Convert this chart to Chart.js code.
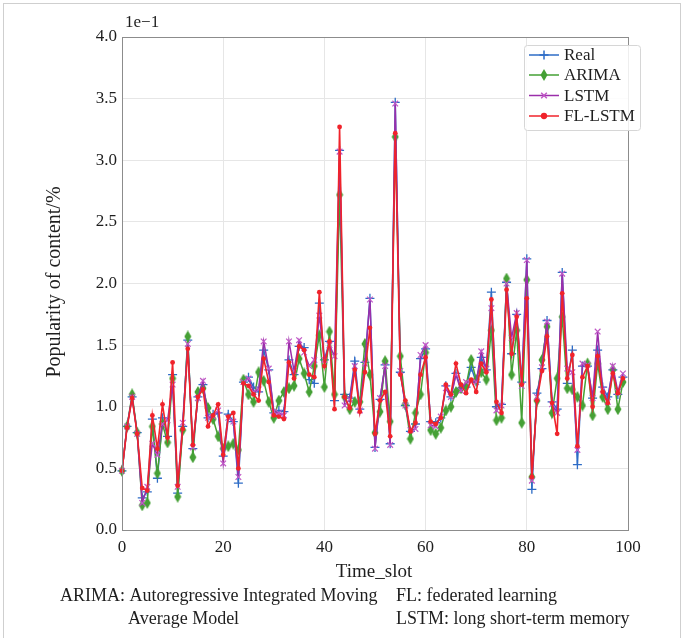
<!DOCTYPE html>
<html>
<head>
<meta charset="utf-8">
<script src="https://cdn.jsdelivr.net/npm/chart.js@4/dist/chart.umd.min.js"></script>
<style>
  html, body { margin: 0; padding: 0; background: #fff; }
  #wrap { width: 684px; height: 638px; }
</style>
</head>
<body>
<div id="wrap"><canvas id="chart" width="684" height="638"></canvas></div>
<script>
// values are shown in units of 1e-1
var timeSlots = Array.from({ length: 100 }, (_, i) => i);

var realValues = [
    0.48, 0.84, 1.08, 0.79, 0.26, 0.31, 0.90, 0.42, 0.91, 0.76,
    1.26, 0.30, 0.84, 1.54, 0.66, 1.08, 1.18, 0.91, 0.94, 0.95,
    0.60, 0.94, 0.88, 0.38, 1.20, 1.24, 1.16, 1.12, 1.46, 1.30,
    0.95, 0.97, 0.96, 1.38, 1.26, 1.49, 1.48, 1.22, 1.19, 1.84,
    1.38, 1.53, 1.05, 3.08, 1.10, 1.07, 1.37, 0.98, 1.36, 1.88,
    0.67, 1.06, 1.34, 0.70, 3.47, 1.28, 1.01, 0.80, 0.86, 1.39,
    1.47, 0.88, 0.87, 0.91, 1.17, 1.08, 1.27, 1.15, 1.16, 1.32,
    1.20, 1.40, 1.30, 1.93, 1.00, 1.02, 2.01, 1.43, 1.75, 1.20,
    2.20, 0.33, 1.11, 1.31, 1.70, 1.04, 0.98, 2.09, 1.19, 1.46,
    0.53, 1.33, 1.33, 1.07, 1.46, 1.16, 1.08, 1.30, 1.10, 1.24
];

var arimaValues = [
    0.48, 0.84, 1.10, 0.79, 0.20, 0.22, 0.84, 0.46, 0.86, 0.71,
    1.23, 0.27, 0.81, 1.57, 0.59, 1.12, 1.15, 0.99, 0.90, 0.76,
    0.66, 0.68, 0.70, 0.65, 1.22, 1.10, 1.04, 1.28, 1.21, 1.04,
    0.91, 1.05, 1.12, 1.15, 1.17, 1.39, 1.27, 1.12, 1.33, 1.58,
    1.16, 1.61, 1.10, 2.72, 1.08, 0.98, 1.04, 1.04, 1.51, 1.26,
    0.79, 0.96, 1.37, 0.88, 3.19, 1.41, 1.02, 0.74, 0.95, 1.10,
    1.44, 0.81, 0.78, 0.83, 0.97, 1.00, 1.12, 1.15, 1.17, 1.38,
    1.22, 1.28, 1.22, 1.62, 0.89, 0.91, 2.04, 1.26, 1.62, 0.87,
    2.03, 0.43, 1.05, 1.38, 1.65, 0.95, 1.23, 1.73, 1.15, 1.14,
    1.08, 1.01, 1.35, 0.93, 1.35, 1.08, 0.98, 1.30, 0.98, 1.20
];

var lstmValues = [
    0.48, 0.84, 1.08, 0.78, 0.22, 0.35, 0.70, 0.61, 0.86, 0.89,
    1.18, 0.35, 0.87, 1.51, 0.67, 1.07, 1.21, 0.91, 0.92, 0.97,
    0.54, 0.91, 0.88, 0.43, 1.20, 1.23, 1.12, 1.14, 1.53, 1.31,
    0.96, 0.95, 0.93, 1.53, 1.29, 1.54, 1.44, 1.33, 1.38, 1.74,
    1.38, 1.50, 1.41, 3.07, 1.01, 1.06, 1.33, 0.97, 1.35, 1.87,
    0.66, 1.07, 1.33, 0.69, 3.46, 1.29, 1.01, 0.81, 0.82, 1.42,
    1.50, 0.85, 0.84, 0.92, 1.15, 1.08, 1.26, 1.13, 1.20, 1.20,
    1.20, 1.45, 1.31, 1.80, 0.97, 1.01, 2.00, 1.56, 1.76, 1.17,
    2.19, 0.40, 1.08, 1.32, 1.69, 1.02, 0.95, 2.08, 1.31, 1.28,
    0.65, 1.35, 1.34, 1.07, 1.61, 1.14, 1.04, 1.33, 1.12, 1.27
];

var flLstmValues = [
    0.48, 0.83, 1.07, 0.78, 0.34, 0.32, 0.93, 0.66, 1.02, 0.75,
    1.36, 0.36, 0.82, 1.47, 0.69, 1.08, 1.14, 0.84, 0.93, 1.02,
    0.61, 0.92, 0.95, 0.50, 1.19, 1.17, 1.10, 1.05, 1.39, 1.20,
    0.93, 0.92, 0.90, 1.36, 1.23, 1.49, 1.46, 1.26, 1.24, 1.93,
    1.33, 1.53, 0.98, 3.27, 1.08, 0.99, 1.30, 0.96, 1.28, 1.64,
    0.78, 1.05, 1.12, 0.76, 3.22, 1.26, 1.05, 0.80, 0.87, 1.26,
    1.40, 0.88, 0.86, 0.91, 1.18, 1.10, 1.35, 1.18, 1.11, 1.22,
    1.12, 1.35, 1.28, 1.87, 1.04, 0.95, 1.95, 1.43, 1.73, 1.18,
    1.88, 0.43, 1.05, 1.29, 1.57, 1.03, 0.78, 1.92, 1.23, 1.42,
    0.68, 1.24, 1.33, 1.00, 1.41, 1.12, 1.03, 1.27, 1.11, 1.23
];

var seriesNames = ["Real", "ARIMA", "LSTM", "FL-LSTM"];
var xTicks = [0, 20, 40, 60, 80, 100];
var yTicks = [0.0, 0.5, 1.0, 1.5, 2.0, 2.5, 3.0, 3.5, 4.0];

var serif = '"Liberation Serif", "DejaVu Serif", serif';
var textColor = "#1e1e1e";

// thin diamond marker like matplotlib's "d"
function thinDiamond (color) {
    let c = document.createElement("canvas");
    c.width = 8;
    c.height = 12;
    let g = c.getContext("2d");
    g.fillStyle = color;
    g.beginPath();
    g.moveTo(4, 0);
    g.lineTo(7.5, 6);
    g.lineTo(4, 12);
    g.lineTo(0.5, 6);
    g.closePath();
    g.fill();
    return c;
}

function toPoints (values) {
    return values.map((v, i) => ({ x: timeSlots[i], y: v }));
}

var datasets = [
    {
        label: seriesNames[0],
        data: toPoints(realValues),
        borderColor: "#2e6cc6",
        borderWidth: 1.5,
        pointStyle: "cross",
        pointRadius: 4.5,
        pointBorderWidth: 1.3,
        pointBorderColor: "#2e6cc6",
        pointBackgroundColor: "#2e6cc6",
        clip: false,
        order: 4
    },
    {
        label: seriesNames[1],
        data: toPoints(arimaValues),
        borderColor: "#45a035",
        borderWidth: 1.5,
        pointStyle: thinDiamond("#45a035"),
        pointRadius: 5,
        clip: false,
        order: 3
    },
    {
        label: seriesNames[2],
        data: toPoints(lstmValues),
        borderColor: "#9b2eaa",
        borderWidth: 1.5,
        pointStyle: "crossRot",
        pointRadius: 4,
        pointBorderWidth: 1.2,
        pointBorderColor: "#c057c6",
        pointBackgroundColor: "#c057c6",
        clip: false,
        order: 2
    },
    {
        label: seriesNames[3],
        data: toPoints(flLstmValues),
        borderColor: "#f0232b",
        borderWidth: 1.6,
        pointStyle: "circle",
        pointRadius: 2.4,
        pointBorderWidth: 0,
        pointBackgroundColor: "#f0232b",
        clip: false,
        order: 1
    }
];

var textPlugin = {
    id: "texts",
    beforeDraw (chart) {
        let ctx = chart.ctx;
        ctx.save();
        ctx.fillStyle = "#fff";
        ctx.fillRect(0, 0, chart.width, chart.height);
        ctx.strokeStyle = "#cfcfcf";
        ctx.lineWidth = 1;
        ctx.strokeRect(3.5, 3.5, 677, 650);
        ctx.restore();
    },
    afterDraw (chart) {
        let ctx = chart.ctx;
        let area = chart.chartArea;
        ctx.save();

        // axes frame
        ctx.strokeStyle = "#8c8c8c";
        ctx.lineWidth = 1;
        ctx.strokeRect(area.left + 0.5, area.top + 0.5, area.right - area.left, area.bottom - area.top);

        ctx.fillStyle = textColor;
        ctx.textBaseline = "middle";
        ctx.font = "17px " + serif;
        ctx.textAlign = "left";
        ctx.fillText("1e\u22121", 125, 23);

        ctx.font = "19px " + serif;
        ctx.textAlign = "center";
        ctx.fillText("Time_slot", 374, 572);

        ctx.save();
        ctx.translate(55, 282);
        ctx.rotate(-Math.PI / 2);
        ctx.font = "20px " + serif;
        ctx.fillText("Popularity of content/%", 0, 0);
        ctx.restore();

        ctx.textAlign = "left";
        ctx.font = "18px " + serif;
        ctx.fillText("ARIMA: Autoregressive Integrated Moving", 60, 596);
        ctx.fillText("Average Model", 128, 619);
        ctx.fillText("FL: federated learning", 396, 596);
        ctx.fillText("LSTM: long short-term memory", 396, 619);

        // legend
        let bx = 524, by = 45, bw = 116, bh = 85;
        ctx.beginPath();
        ctx.roundRect(bx + 0.5, by + 0.5, bw, bh, 3);
        ctx.fillStyle = "rgba(255,255,255,0.85)";
        ctx.fill();
        ctx.strokeStyle = "#d6d6d6";
        ctx.stroke();

        let rows = [55, 75, 95.5, 116];
        chart.data.datasets.forEach((ds, i) => {
            let y = rows[i];
            ctx.strokeStyle = ds.borderColor;
            ctx.lineWidth = 1.5;
            ctx.beginPath();
            ctx.moveTo(529, y);
            ctx.lineTo(559, y);
            ctx.stroke();
            ctx.fillStyle = ds.pointBackgroundColor || ds.borderColor;
            ctx.strokeStyle = ds.pointBorderColor || ds.borderColor;
            Chart.helpers.drawPoint(ctx, {
                pointStyle: ds.pointStyle,
                radius: ds.pointRadius,
                rotation: 0,
                borderWidth: ds.pointBorderWidth || 1
            }, 544, y);
            ctx.fillStyle = textColor;
            ctx.font = "17px " + serif;
            ctx.textAlign = "left";
            ctx.fillText(ds.label, 564, y + 1);
        });

        ctx.restore();
    }
};

new Chart(document.getElementById("chart"), {
    type: "line",
    data: { datasets: datasets },
    options: {
        responsive: false,
        devicePixelRatio: 1,
        animation: false,
        layout: { padding: { top: 37, right: 56, bottom: 0, left: 0 } },
        plugins: {
            legend: { display: false },
            tooltip: { enabled: false }
        },
        elements: { line: { tension: 0 } },
        scales: {
            x: {
                type: "linear",
                min: 0,
                max: 100,
                afterFit: (s) => { s.height = 108; },
                afterBuildTicks: (s) => { s.ticks = xTicks.map((v) => ({ value: v })); },
                grid: { color: "#e6e6e6", drawTicks: false },
                border: { display: false },
                ticks: {
                    padding: 7,
                    color: textColor,
                    font: { family: serif, size: 17 },
                    maxRotation: 0
                }
            },
            y: {
                min: 0,
                max: 4,
                afterFit: (s) => { s.width = 122; },
                afterBuildTicks: (s) => { s.ticks = yTicks.map((v) => ({ value: v })); },
                grid: { color: "#e6e6e6", drawTicks: false },
                border: { display: false },
                ticks: {
                    padding: 5,
                    color: textColor,
                    font: { family: serif, size: 17 },
                    callback: (v) => Number(v).toFixed(1)
                }
            }
        }
    },
    plugins: [textPlugin]
});
</script>
</body>
</html>
